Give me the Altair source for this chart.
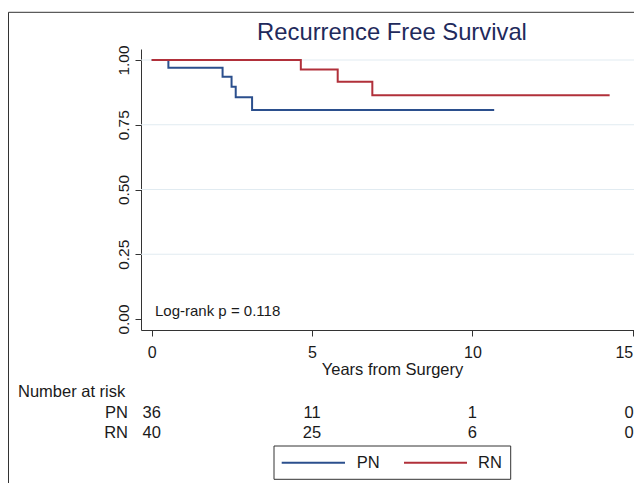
import altair as alt
import pandas as pd

# ---- data ----
groups = ["PN", "RN"]
group_colors = ["#2b4f8d", "#b1303a"]

pn_time = [0.0, 0.52, 2.21, 2.49, 2.62, 3.13, 10.68]
pn_surv = [1.0, 0.970, 0.935, 0.897, 0.856, 0.807, 0.807]
rn_time = [0.0, 4.65, 5.80, 6.88, 14.28]
rn_surv = [1.0, 0.963, 0.916, 0.864, 0.864]

risk_times = [0, 5, 10, 15]
risk_pn = [36, 11, 1, 0]
risk_rn = [40, 25, 6, 0]

grid_values = [0.25, 0.50, 0.75, 1.00]
x_ticks = [0, 5, 10, 15]
y_ticks = [0.0, 0.25, 0.50, 0.75, 1.00]

title_text = "Recurrence Free Survival"
x_title = "Years from Surgery"
logrank_text = "Log-rank p = 0.118"
risk_header = "Number at risk"

# ---- tables ----
curves = pd.concat([
    pd.DataFrame({"time": pn_time, "surv": pn_surv, "group": "PN"}),
    pd.DataFrame({"time": rn_time, "surv": rn_surv, "group": "RN"}),
], ignore_index=True)
risk = pd.concat([
    pd.DataFrame({"time": risk_times, "n": risk_pn, "group": "PN"}),
    pd.DataFrame({"time": risk_times, "n": risk_rn, "group": "RN"}),
], ignore_index=True)
grid = pd.DataFrame({"surv": grid_values})
one = pd.DataFrame({"a": [0]})

FONT = "Liberation Sans"
TXT = "#1a1a1a"
W, H = 493, 281
CX = 251  # horizontal centre of the (partly off-page) plot frame
last_t = max(risk_times)
FS = 16.5

xscale = alt.Scale(domain=[-0.334, 15.04], nice=False, zero=False)
yscale = alt.Scale(domain=[-0.0425, 1.0425], nice=False, zero=False)
cscale = alt.Scale(domain=groups, range=group_colors)

xaxis = alt.Axis(
    values=x_ticks, title=x_title, titleFontSize=16.5, titleFontWeight="normal",
    titleColor=TXT, titleFont=FONT, labelFont=FONT, labelFontSize=16,
    labelColor=TXT, tickSize=6, tickColor="#333", domainColor="#333",
    grid=False, labelPadding=8, titlePadding=1, labelFlush=5,
    titleX=CX, titleAnchor="middle")
yaxis = alt.Axis(
    values=y_ticks, format=".2f", title=None, labelAngle=270,
    labelAlign="center", labelBaseline="bottom", labelPadding=4,
    labelFont=FONT, labelFontSize=15.5, labelColor=TXT, tickSize=6,
    tickColor="#333", domainColor="#333", grid=False, labelFlush=False)

X = alt.X("time:Q", scale=xscale, axis=xaxis)
Y = alt.Y("surv:Q", scale=yscale, axis=yaxis)

grid_layer = alt.Chart(grid).mark_rule(color="#e1ebf1", strokeWidth=1).encode(y=Y)

lines = alt.Chart(curves).mark_line(interpolate="step-after", strokeWidth=2).encode(
    x=X, y=Y, color=alt.Color("group:N", scale=cscale, legend=None),
)

title_layer = alt.Chart(one).mark_text(
    align="center", baseline="alphabetic", fontSize=23.8, font=FONT, color="#1f2a5c",
    text=title_text
).encode(x=alt.value(CX), y=alt.value(-9))

logrank = alt.Chart(one).mark_text(
    align="left", baseline="middle", fontSize=15, font=FONT, color=TXT, text=logrank_text
).encode(x=alt.value(14), y=alt.value(262))

header = alt.Chart(one).mark_text(
    align="left", baseline="middle", fontSize=FS, font=FONT, color=TXT, text=risk_header
).encode(x=alt.value(-123), y=alt.value(342.5))

risk_layers = []
for g, yv in zip(groups, [363.5, 383.5]):
    risk_layers.append(
        alt.Chart(one).mark_text(
            align="right", baseline="middle", fontSize=FS, font=FONT, color=TXT, text=g
        ).encode(x=alt.value(-13), y=alt.value(yv))
    )
    risk_layers.append(
        alt.Chart(risk).transform_filter(
            (alt.datum.group == g) & (alt.datum.time < last_t)
        ).mark_text(
            align="center", baseline="middle", fontSize=FS, font=FONT, color=TXT
        ).encode(x=X, y=alt.value(yv), text="n:Q")
    )
    risk_layers.append(
        alt.Chart(risk).transform_filter(
            (alt.datum.group == g) & (alt.datum.time >= last_t)
        ).mark_text(
            align="right", baseline="middle", fontSize=FS, font=FONT, color=TXT, dx=1
        ).encode(x=X, y=alt.value(yv), text="n:Q")
    )

# legend box (drawn)
legend_box = alt.Chart(one).mark_rect(fill="white", stroke="#333", strokeWidth=1).encode(
    x=alt.value(133), x2=alt.value(369.7), y=alt.value(397), y2=alt.value(430.3)
)
legend_layers = [legend_box]
for g, c, x0, x1, tx in zip(groups, group_colors, [140.7, 263], [204, 326], [215.7, 337]):
    legend_layers.append(
        alt.Chart(one).mark_rule(color=c, strokeWidth=2).encode(
            x=alt.value(x0), x2=alt.value(x1), y=alt.value(413.7))
    )
    legend_layers.append(
        alt.Chart(one).mark_text(align="left", baseline="middle", fontSize=FS,
                                 font=FONT, color=TXT, text=g).encode(
            x=alt.value(tx), y=alt.value(413.7))
    )

# outer frame (left and top edges visible)
frame_left = alt.Chart(one).mark_rule(color="#333", strokeWidth=1).encode(
    x=alt.value(-132.5), y=alt.value(-36.7), y2=alt.value(500))
frame_top = alt.Chart(one).mark_rule(color="#333", strokeWidth=1).encode(
    x=alt.value(-132.5), x2=alt.value(600), y=alt.value(-36.7))

chart = alt.layer(
    grid_layer, lines, title_layer, logrank, header, *risk_layers, *legend_layers,
    frame_left, frame_top
).properties(
    width=W, height=H,
    autosize=alt.AutoSizeParams(type="none"),
    padding={"left": 133, "top": 41, "right": 0, "bottom": 153},
    background="white",
).configure_view(stroke=None)

chart.save("out.html", embed_options={"renderer": "svg", "actions": False})
